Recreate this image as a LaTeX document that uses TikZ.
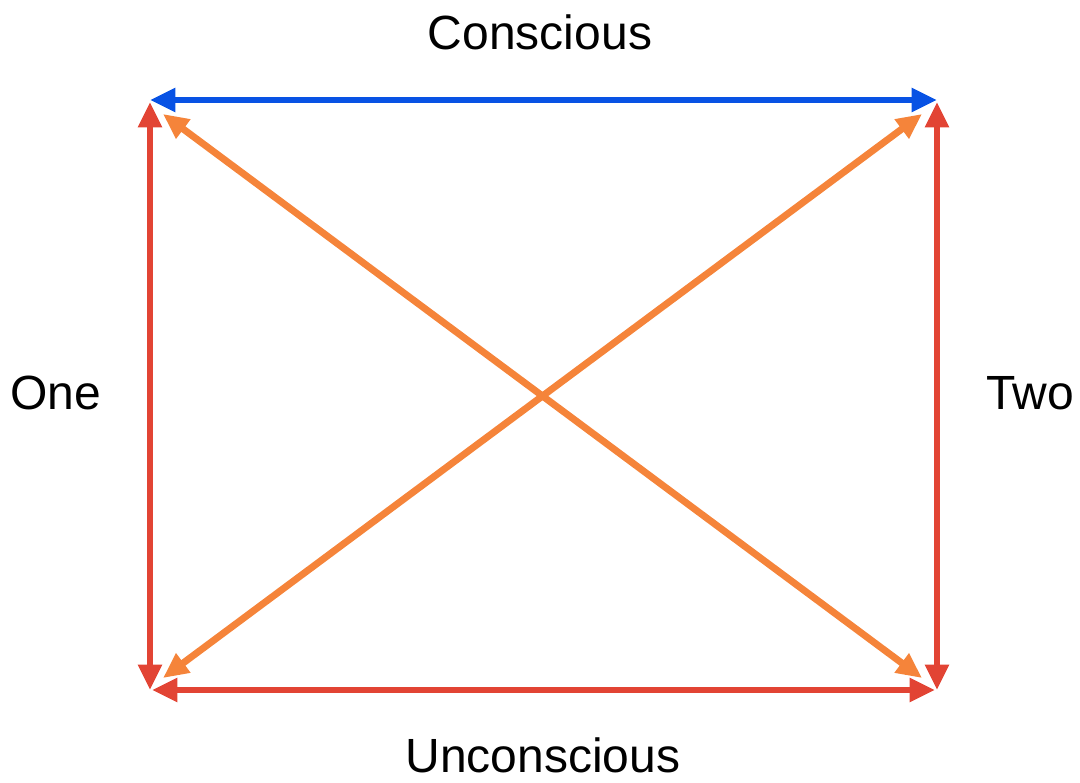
\documentclass[tikz,border=0pt]{standalone}
\usepackage{fontspec}
\setmainfont{Liberation Sans}
\usetikzlibrary{arrows.meta}
\definecolor{cblue}{RGB}{8,82,228}
\definecolor{cred}{RGB}{226,68,52}
\definecolor{corange}{RGB}{245,132,58}
\tikzset{
  link/.style={line width=5.2pt, {Triangle[length=19pt,width=17pt]}-{Triangle[length=19pt,width=17pt]}},
  lbl/.style={font=\fontsize{36}{42}\selectfont, inner sep=0pt}
}
\begin{document}
\begin{tikzpicture}[x=0.75pt,y=-0.75pt]
\useasboundingbox (0,0) rectangle (1080,782);
% corners
\coordinate (TLb) at (150,100);
\coordinate (TRb) at (937,100);
\coordinate (TLr) at (150,102);
\coordinate (BLr) at (150,690);
\coordinate (BLb) at (152,690);
\coordinate (BRb) at (935,690);
\coordinate (TRr) at (937,102);
\coordinate (BRr) at (937,690);
\coordinate (TLo) at (163,114);
\coordinate (BRo) at (922,678);
\coordinate (BLo) at (163,678);
\coordinate (TRo) at (922,114);
% labels
\node[lbl] (con) at (540,32) {Conscious};
\node[lbl] (uncon) at (543,755) {Unconscious};
\node[lbl] (one) at (56,393) {One};
\node[lbl] (two) at (1030,393) {Two};
% connectors
\draw[link, cblue] (TLb) -- (TRb);
\draw[link, cred] (TLr) -- (BLr);
\draw[link, cred] (TRr) -- (BRr);
\draw[link, cred] (BLb) -- (BRb);
\draw[link, corange] (TLo) -- (BRo);
\draw[link, corange] (BLo) -- (TRo);
\end{tikzpicture}
\end{document}
